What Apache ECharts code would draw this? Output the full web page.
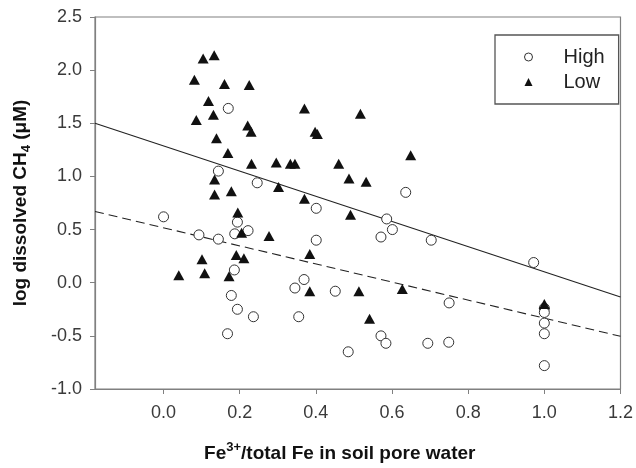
<!DOCTYPE html>
<html>
<head>
<meta charset="utf-8">
<script src="https://cdn.jsdelivr.net/npm/echarts@6/dist/echarts.min.js"></script>
<style>html,body{margin:0;padding:0;background:#fff;}#c{width:636px;height:468px;}</style>
</head>
<body>
<div id="c"></div>
<script>
var xTicks = [0.0, 0.2, 0.4, 0.6, 0.8, 1.0, 1.2];
var highX = [0.0,0.093,0.144,0.187,0.194,0.222,0.170,0.144,0.246,0.401,0.401,0.186,0.178,0.194,0.236,0.168,0.345,0.369,0.355,0.451,0.485,0.636,0.586,0.601,0.571,0.703,0.972,0.750,0.571,0.584,0.694,0.749,1.0,1.0,1.0,1.0,1.0];
var highY = [0.62,0.45,0.41,0.46,0.57,0.49,1.64,1.05,0.94,0.70,0.40,0.12,-0.12,-0.25,-0.32,-0.48,-0.05,0.03,-0.32,-0.08,-0.65,0.85,0.60,0.50,0.43,0.40,0.19,-0.19,-0.50,-0.57,-0.57,-0.56,-0.24,-0.28,-0.38,-0.48,-0.78];
var lowX = [0.104,0.133,0.081,0.160,0.225,0.118,0.131,0.086,0.370,0.221,0.230,0.398,0.404,0.139,0.169,0.231,0.296,0.333,0.345,0.460,0.487,0.134,0.134,0.178,0.302,0.370,0.517,0.649,0.532,0.491,0.195,0.205,0.277,0.101,0.191,0.211,0.384,0.040,0.108,0.172,0.384,0.513,0.627,0.541,1.0];
var lowY = [2.11,2.14,1.91,1.87,1.86,1.71,1.58,1.53,1.64,1.48,1.42,1.42,1.40,1.36,1.22,1.12,1.13,1.12,1.12,1.12,0.98,0.97,0.83,0.86,0.90,0.79,1.59,1.20,0.95,0.64,0.66,0.47,0.44,0.22,0.26,0.23,0.27,0.07,0.09,0.06,-0.08,-0.08,-0.06,-0.34,-0.20];
// regression line endpoints (x range of axis)
var fitX = [-0.18, 1.2];
var lowFitY = [1.50, -0.135];
var highFitY = [0.67, -0.504];

function zip(a, b) { return a.map(function (v, i) { return [v, b[i]]; }); }

var chart = echarts.init(document.getElementById('c'), null, {renderer: 'canvas'});
var axisColor = '#808080';
var labelColor = '#3a3a3a';
chart.setOption({
  backgroundColor: '#ffffff',
  animation: false,
  grid: {left: 95, right: 11, top: 17, bottom: 78, show: true, borderColor: axisColor, borderWidth: 1.2, backgroundColor: 'transparent'},
  xAxis: {
    type: 'value', min: -0.18, max: 1.2,
    splitLine: {show: false},
    axisLine: {show: true, onZero: false, lineStyle: {color: axisColor, width: 1.2}},
    axisTick: {show: true, customValues: xTicks, length: 5, lineStyle: {color: axisColor}},
    axisLabel: {customValues: xTicks, color: labelColor, fontFamily: 'Liberation Sans, Arial', fontSize: 18, margin: 15,
      formatter: function (v) { return v.toFixed(1); }},
    name: '{b|Fe}{sup|3+}{b|/total Fe in soil pore water}',
    nameLocation: 'middle', nameGap: 52,
    nameTextStyle: {
      padding: [0, 36, 0, 0],
      rich: {
        b: {fontFamily: 'Liberation Sans, Arial', fontWeight: 'bold', fontSize: 19, color: '#111', lineHeight: 22, verticalAlign: 'bottom'},
        sup: {fontFamily: 'Liberation Sans, Arial', fontWeight: 'bold', fontSize: 13, color: '#111', lineHeight: 22, verticalAlign: 'top'}
      }
    }
  },
  yAxis: {
    type: 'value', min: -1.0, max: 2.5, interval: 0.5,
    splitLine: {show: false},
    axisLine: {show: true, onZero: false, lineStyle: {color: axisColor, width: 1.2}},
    axisTick: {show: true, length: 5, lineStyle: {color: axisColor}},
    axisLabel: {color: labelColor, fontFamily: 'Liberation Sans, Arial', fontSize: 18, margin: 13,
      formatter: function (v) { return v.toFixed(1); }},
    name: '{b|log dissolved CH}{sub|4}{b| (\u03bcM)}',
    nameLocation: 'middle', nameGap: 62,
    nameTextStyle: {
      rich: {
        b: {fontFamily: 'Liberation Sans, Arial', fontWeight: 'bold', fontSize: 19, color: '#111', lineHeight: 22, verticalAlign: 'top'},
        sub: {fontFamily: 'Liberation Sans, Arial', fontWeight: 'bold', fontSize: 13, color: '#111', lineHeight: 22, verticalAlign: 'bottom'}
      }
    }
  },
  legend: {
    orient: 'vertical', left: 495, top: 35,
    padding: [12, 14, 12, 29],
    itemGap: 5, itemWidth: 8, itemHeight: 8,
    borderColor: '#555', borderWidth: 1.3,
    textStyle: {fontFamily: 'Liberation Sans, Arial', fontSize: 20, color: '#222', lineHeight: 20, padding: [0, 0, 0, 26]},
    data: [
      {name: 'High', icon: 'circle', itemStyle: {color: '#fff', borderColor: '#333', borderWidth: 1}},
      {name: 'Low', icon: 'triangle', itemStyle: {color: '#111'}}
    ]
  },
  series: [
    {name: 'High fit', type: 'line', data: zip(fitX, highFitY), symbol: 'none', silent: true,
      lineStyle: {color: '#222', width: 1.1, type: [9, 5]}, z: 1},
    {name: 'Low fit', type: 'line', data: zip(fitX, lowFitY), symbol: 'none', silent: true,
      lineStyle: {color: '#222', width: 1.1}, z: 1},
    {name: 'High', type: 'scatter', data: zip(highX, highY), symbol: 'circle', symbolSize: 10,
      itemStyle: {color: '#fff', borderColor: '#333', borderWidth: 1, opacity: 1}, z: 3},
    {name: 'Low', type: 'scatter', data: zip(lowX, lowY), symbol: 'triangle', symbolSize: [11, 10],
      itemStyle: {color: '#111', opacity: 1}, z: 4}
  ]
});
</script>
</body>
</html>
